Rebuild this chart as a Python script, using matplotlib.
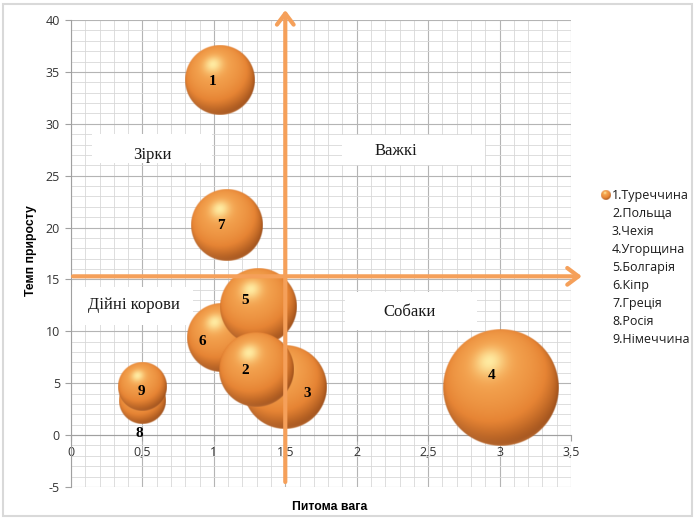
import numpy as np
import matplotlib
matplotlib.use("Agg")
import matplotlib.pyplot as plt
from matplotlib.patches import Rectangle
from matplotlib.ticker import FuncFormatter, MultipleLocator

# --- data ---
labels = ["1", "2", "3", "4", "5", "6", "7", "8", "9"]
countries = ["1.Туреччина", "2.Польща", "3.Чехія", "4.Угорщина", "5.Болгарія",
             "6.Кіпр", "7.Греція", "8.Росія", "9.Німеччина"]
share = [1.04, 1.30, 1.50, 3.01, 1.31, 1.05, 1.09, 0.50, 0.50]      # питома вага
growth = [34.2, 6.3, 4.6, 4.5, 12.4, 9.4, 20.2, 3.3, 4.6]           # темп приросту
bubble_size = [12.2, 14.0, 17.6, 33.6, 14.6, 11.7, 12.6, 5.5, 5.8]
quadrants = ["Зірки", "Важкі", "Дійні корови", "Собаки"]
split_x = 1.5
split_y = 15.3

# --- layout / style ---
W, H = 695, 520
R_MAX = 58.0  # px radius of the biggest bubble
draw_order = [3, 2, 5, 4, 1, 0, 6, 7, 8]
label_off = [(-7, -1), (-12, -1), (22, -6), (-9, 13), (-13, 6),
             (-19, -4), (-6, 0), (-3, -33), (-1, -4)]
# (box x0, y0, x1, y1, text x, text y) in data units
quad_layout = [
    (0.147, 26.2, 0.987, 29.0, 0.567, 27.0),
    (1.897, 26.0, 2.898, 28.9, 2.275, 27.4),
    (0.007, 10.6, 0.854, 14.26, 0.4375, 12.5),
    (1.918, 10.1, 2.842, 13.78, 2.373, 11.9),
]
ARROW = "#F5A05A"


def sphere_rgba(r_px, n=240):
    """Shaded orange ball, like Excel's 3-D bubble effect."""
    u = np.linspace(-1, 1, n)
    U, V = np.meshgrid(u, u)
    rho = np.hypot(U, V)
    Wz = np.sqrt(np.clip(1 - rho ** 2, 0, 1))
    L = np.array([-0.2, 0.45, 0.87])
    L = L / np.linalg.norm(L)
    ndl = U * L[0] + V * L[1] + Wz * L[2]
    d = np.clip((ndl + 0.18) / 1.18, 0, 1)[..., None]

    dark = np.array([150, 72, 20]) / 255
    mid = np.array([230, 132, 52]) / 255
    bright = np.array([245, 166, 82]) / 255
    spec_c = np.array([255, 238, 165]) / 255
    refl_c = np.array([232, 150, 85]) / 255

    lo = dark + (mid - dark) * np.clip(d / 0.55, 0, 1)
    col = np.where(d < 0.55, lo, mid + (bright - mid) * np.clip((d - 0.55) / 0.45, 0, 1))
    spec = (np.clip(ndl, 0, 1) ** 28 * 0.95)[..., None]
    col = col * (1 - spec) + spec_c * spec
    refl = (np.clip(-V, 0, 1) * rho ** 8 * 0.45)[..., None]
    col = col * (1 - refl) + refl_c * refl

    alpha = np.clip((1 - rho) * r_px + 0.5, 0, 1)
    return np.dstack([np.clip(col, 0, 1), alpha])


fig = plt.figure(figsize=(W / 100, H / 100), dpi=100)
ax = fig.add_axes([71 / W, 33 / H, 500 / W, 467 / H])
ax.set_xlim(0, 3.5)
ax.set_ylim(-5, 40)

ax.xaxis.set_major_locator(MultipleLocator(0.5))
ax.xaxis.set_minor_locator(MultipleLocator(0.1))
ax.yaxis.set_major_locator(MultipleLocator(5))
ax.yaxis.set_minor_locator(MultipleLocator(1))
ax.grid(which="major", color="#B4B4B4", lw=0.8, zorder=0)
ax.grid(which="minor", color="#D8D8D8", lw=0.6, zorder=0)
ax.set_axisbelow(True)

comma = FuncFormatter(lambda v, p: f"{v:g}".replace(".", ","))
ax.xaxis.set_major_formatter(comma)
ax.yaxis.set_major_formatter(comma)
ax.spines["bottom"].set_position(("data", 0))
for s in ("top", "right"):
    ax.spines[s].set_visible(False)
for s in ("left", "bottom"):
    ax.spines[s].set_color("#A0A0A0")
ax.tick_params(which="major", length=4, color="#A0A0A0", labelsize=9,
               labelcolor="#333333", pad=4)
ax.tick_params(which="minor", length=0)
for lab in ax.get_xticklabels() + ax.get_yticklabels():
    lab.set_family("Open Sans")

# quadrant captions
for name, (x0, y0, x1, y1, tx, ty) in zip(quadrants, quad_layout):
    ax.add_patch(Rectangle((x0, y0), x1 - x0, y1 - y0, facecolor="white",
                           edgecolor="none", zorder=2))
    ax.text(tx, ty, name, ha="center", va="center", fontsize=12,
            family="Liberation Serif", color="#1A1A1A", zorder=3)

# bubbles (area ~ size)
bb = ax.get_window_extent()
px_x = bb.width / 3.5
px_y = bb.height / 45.0
smax = max(bubble_size)
for rank, i in enumerate(draw_order):
    r = R_MAX * np.sqrt(bubble_size[i] / smax)
    ext = [share[i] - r / px_x, share[i] + r / px_x,
           growth[i] - r / px_y, growth[i] + r / px_y]
    ax.imshow(sphere_rgba(r), extent=ext, origin="lower", aspect="auto",
              interpolation="bilinear", zorder=5 + rank)
ax.set_xlim(0, 3.5)
ax.set_ylim(-5, 40)
for i, lab in enumerate(labels):
    ax.annotate(lab, (share[i], growth[i]), xytext=label_off[i],
                textcoords="offset pixels", ha="center", va="center",
                fontsize=11, fontweight="bold", family="Liberation Serif",
                zorder=60, annotation_clip=False)

# dividing arrows
for xy, xytext in [((split_x, 40.96), (split_x, -4.52)),
                   ((3.576, split_y), (0.014, split_y))]:
    an = ax.annotate("", xy=xy, xytext=xytext, annotation_clip=False,
                     arrowprops=dict(arrowstyle="->,head_length=0.8,head_width=0.6",
                                     color=ARROW, lw=3, shrinkA=0, shrinkB=0),
                     zorder=50)
    an.arrow_patch.set_clip_on(False)

# axis titles
fig.text(330 / W, 1 - 507 / H, "Питома вага", ha="center", va="center",
         fontsize=8.8, fontweight="bold", family="Liberation Sans")
fig.text(31 / W, 1 - 251 / H, "Темп приросту", ha="center", va="center",
         rotation=90, fontsize=8.8, fontweight="bold", family="Liberation Sans")

# legend (single series, the names stacked under one marker)
lax = fig.add_axes([600.7 / W, 1 - 200 / H, 10 / W, 10 / H])
lax.imshow(sphere_rgba(5, n=60), extent=[-1, 1, -1, 1], origin="lower",
           interpolation="bilinear")
lax.axis("off")
for k, name in enumerate(countries):
    fig.text(612 / W, 1 - (195 + 18.1 * k) / H, name, ha="left", va="center",
             fontsize=9, family="Open Sans", color="#1A1A1A")

# chart border
fig.patches.append(Rectangle((3.5 / W, 4 / H), 688 / W, 512 / H,
                             transform=fig.transFigure, fill=False,
                             edgecolor="#D9D9D9", lw=1.5))

fig.savefig("out.png", dpi=100)
